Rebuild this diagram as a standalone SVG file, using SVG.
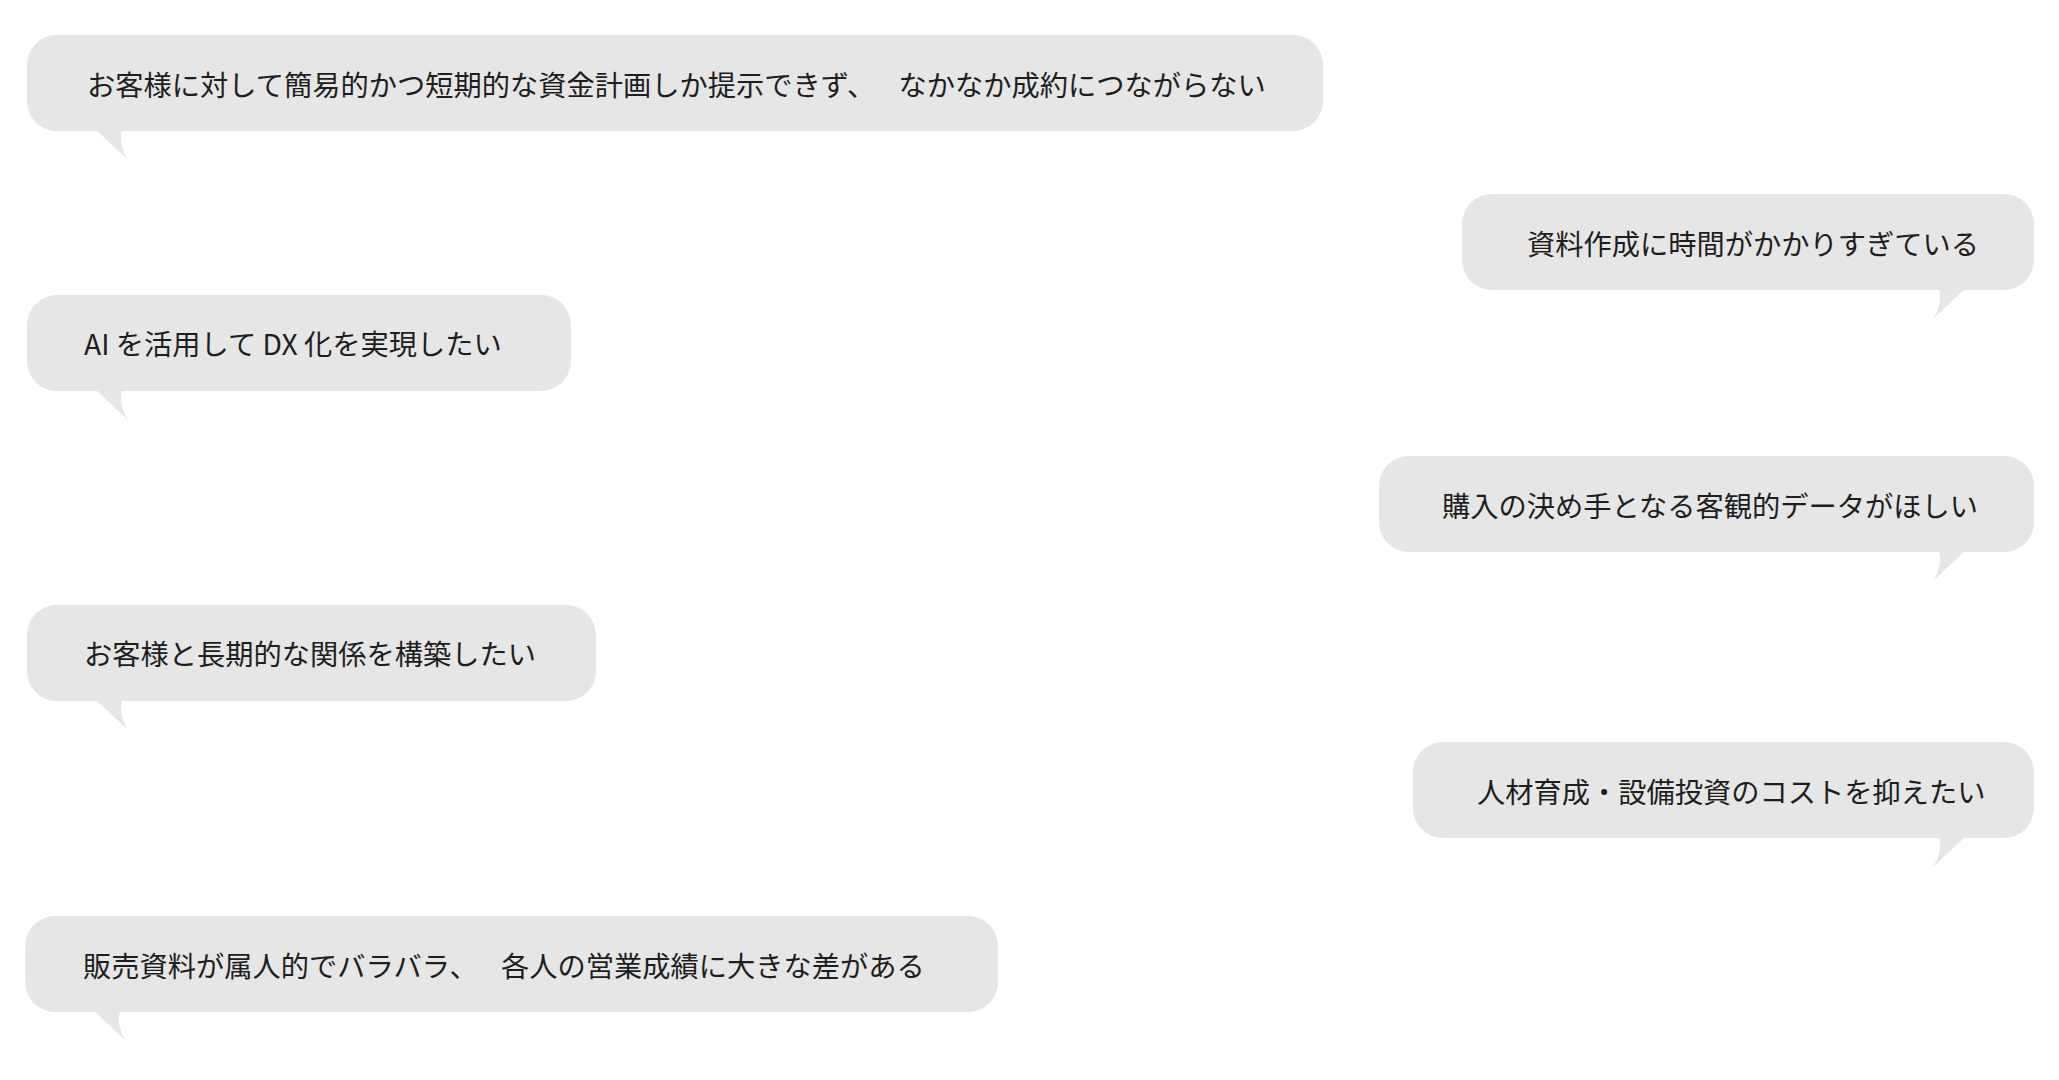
<svg xmlns="http://www.w3.org/2000/svg" width="2059" height="1080" viewBox="0 0 2059 1080">
<style>
.b{fill:#e6e6e6}
.t{font-family:"Noto Sans CJK JP","Noto Sans",sans-serif;font-size:28.25px;fill:#1e1e1e;dominant-baseline:central}
</style>
<rect width="2059" height="1080" fill="#fff"/>
<g id="n1">
<rect class="b" x="27" y="35" width="1296" height="96" rx="30"/>
<path class="b" d="M96 130 L128 160 C123 152 119 142 122 130 Z"/>
<text class="t" x="87" y="83" word-spacing="17">お客様に対して簡易的かつ短期的な資金計画しか提示できず、 なかなか成約につながらない</text>
</g>
<g id="n2">
<rect class="b" x="1462" y="194" width="572" height="96" rx="30"/>
<path class="b" d="M1965 289 L1933 319 C1938 311 1942 301 1939 289 Z"/>
<text class="t" x="1527" y="242">資料作成に時間がかかりすぎている</text>
</g>
<g id="n3">
<rect class="b" x="27" y="295" width="544" height="96" rx="30"/>
<path class="b" d="M96 390 L128 420 C123 412 119 402 122 390 Z"/>
<text class="t" x="84" y="342">AI を活用して DX 化を実現したい</text>
</g>
<g id="n4">
<rect class="b" x="1379" y="456" width="655" height="96" rx="30"/>
<path class="b" d="M1965 551 L1933 581 C1938 573 1942 563 1939 551 Z"/>
<text class="t" x="1442" y="504">購入の決め手となる客観的データがほしい</text>
</g>
<g id="n5">
<rect class="b" x="27" y="605" width="569" height="96" rx="30"/>
<path class="b" d="M96 700 L128 730 C123 722 119 712 122 700 Z"/>
<text class="t" x="84" y="652">お客様と長期的な関係を構築したい</text>
</g>
<g id="n6">
<rect class="b" x="1413" y="742" width="621" height="96" rx="30"/>
<path class="b" d="M1965 837 L1933 867 C1938 859 1942 849 1939 837 Z"/>
<text class="t" x="1477" y="790">人材育成・設備投資のコストを抑えたい</text>
</g>
<g id="n7">
<rect class="b" x="25" y="916" width="973" height="96" rx="30"/>
<path class="b" d="M94 1011 L126 1041 C121 1033 117 1023 120 1011 Z"/>
<text class="t" x="83" y="964" word-spacing="17">販売資料が属人的でバラバラ、 各人の営業成績に大きな差がある</text>
</g>
<g id="connectors"/>
</svg>
